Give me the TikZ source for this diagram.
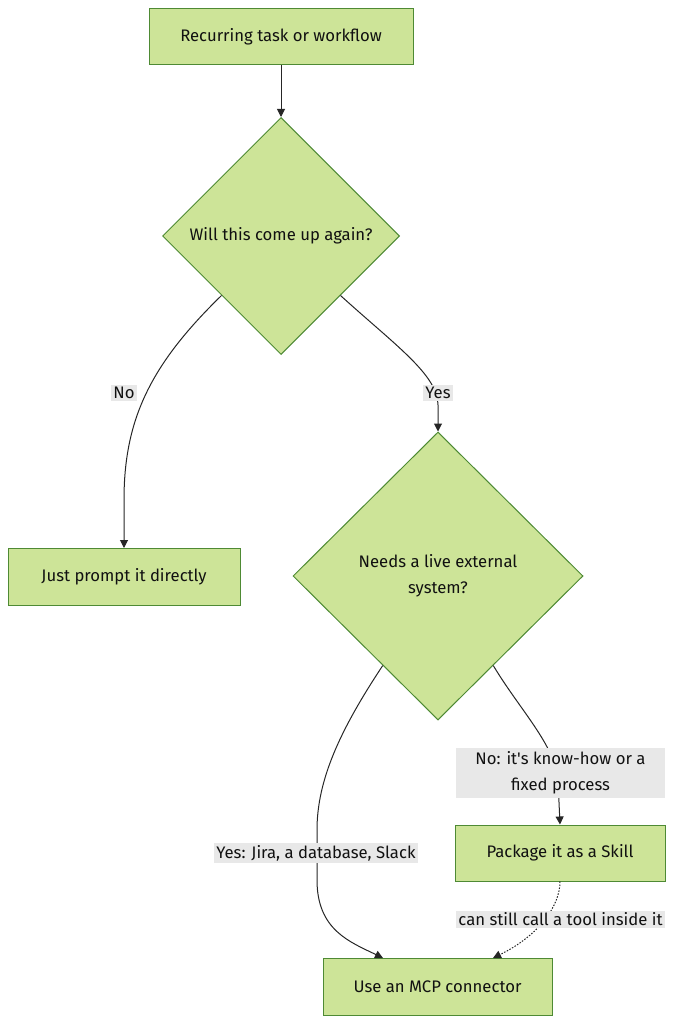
\documentclass[tikz,border=0pt]{standalone}
\usepackage{fontspec}
\setmainfont{Fira Sans}
\usetikzlibrary{shapes.geometric,arrows.meta,calc}
\definecolor{nodefill}{HTML}{CDE498}
\definecolor{nodeline}{HTML}{4E8A34}
\definecolor{labelbg}{HTML}{E8E8E8}
\definecolor{txt}{HTML}{111111}
\begin{document}
\begin{tikzpicture}[x=1pt,y=-1pt,
  base/.style={font=\fontsize{16.7}{26}\selectfont, text=txt},
  proc/.style={base, draw=nodeline, fill=nodefill, line width=1pt, rectangle, inner sep=0pt, align=center},
  decide/.style={base, draw=nodeline, fill=nodefill, line width=1pt, diamond, inner sep=0pt, align=center},
  elabel/.style={base, fill=labelbg, inner sep=2pt, align=center},
  flow/.style={draw=black!85, line width=1pt, -{Triangle[length=8pt,width=8pt]}},
  dotflow/.style={flow, dash pattern=on 1.5pt off 1.5pt}
]
\useasboundingbox (0,0) rectangle (674,1024);

\node[proc, minimum width=264pt, minimum height=56pt] (start) at (281,37) {Recurring task or workflow};
\node[decide, minimum width=237pt, minimum height=237pt] (d1) at (281,236) {Will this come up again?};
\node[proc, minimum width=232pt, minimum height=57pt] (jp) at (124,577) {Just prompt it directly};
\node[decide, minimum width=290pt, minimum height=288pt] (d2) at (438,576) {Needs a live external\\system?};
\node[proc, minimum width=210pt, minimum height=56pt] (skill) at (560,853) {Package it as a Skill};
\node[proc, minimum width=229pt, minimum height=57pt] (mcp) at (437.5,987) {Use an MCP connector};

\coordinate (mcpL) at ($(mcp.north)+(-54.5,0)$);
\coordinate (mcpR) at ($(mcp.north)+(55.5,0)$);
\coordinate (d2L) at ($(d2.south)!0.38!(d2.west)$);
\coordinate (d2R) at ($(d2.south)!0.38!(d2.east)$);

\draw[flow] (start) -- (d1);
\draw[flow] (d1.south west) .. controls (150,365) and (124,420) .. (124,500) -- (jp.north);
\draw[flow] (d1.south east) .. controls (395,345) and (438,375) .. (438,405) -- (d2.north);
\draw[flow] (d2L) .. controls (340,730) and (317,780) .. (317,830) -- (317,880) .. controls (317,930) and (350,942) .. (mcpL);
\draw[flow] (d2R) .. controls (520,710) and (555,745) .. (558,780) -- (skill.north);
\draw[dotflow] (skill.south) .. controls (560,905) and (540,935) .. (mcpR);

\node[elabel] (lno) at (124,393) {No};
\node[elabel] (lyes) at (438,393) {Yes};
\node[elabel] (lyes2) at (316,853) {Yes: Jira, a database, Slack};
\node[elabel, minimum width=209pt, minimum height=50pt] (lno2) at (560.5,773) {No: it\textquotesingle s know-how or a\\fixed process};
\node[elabel] (ltool) at (560.5,919.5) {can still call a tool inside it};
\end{tikzpicture}
\end{document}
